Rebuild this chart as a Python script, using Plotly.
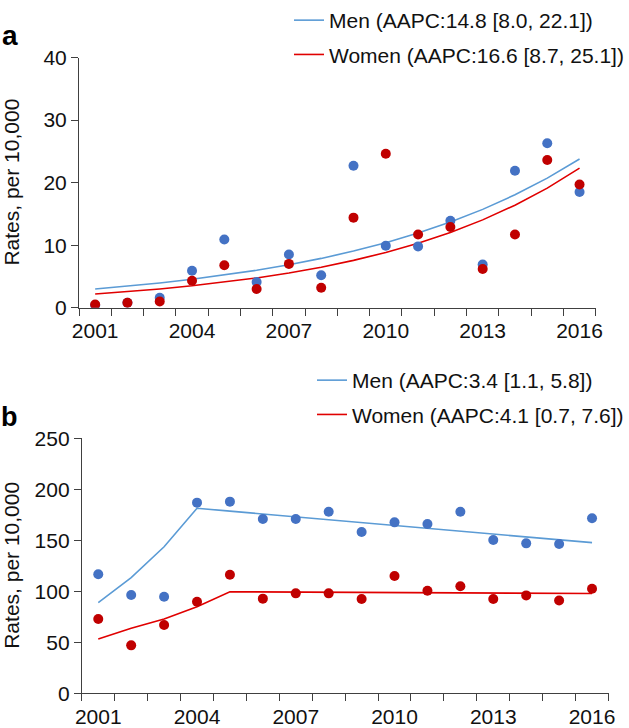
import plotly.graph_objects as go

years = list(range(2001, 2017))
tick_years = [2001, 2004, 2007, 2010, 2013, 2016]
tick_labels = [str(y) for y in tick_years]

# Panel a
a_men = [0.4, 0.8, 1.6, 5.9, 10.9, 4.1, 8.5, 5.2, 22.7, 9.9, 9.8, 13.9, 6.9, 21.9, 26.3, 18.5]
a_women = [0.5, 0.8, 1.0, 4.3, 6.8, 3.0, 7.0, 3.2, 14.4, 24.6, 11.7, 12.9, 6.2, 11.7, 23.6, 19.7]
a_men_fit = [3.0, 3.44, 3.95, 4.54, 5.21, 5.98, 6.87, 7.88, 9.05, 10.39, 11.93, 13.69, 15.72, 18.05, 20.72, 23.78]
a_women_fit = [2.2, 2.57, 3.0, 3.5, 4.08, 4.76, 5.56, 6.48, 7.57, 8.83, 10.31, 12.03, 14.04, 16.38, 19.11, 22.31]
a_names = ["Men (AAPC:14.8 [8.0, 22.1])", "Women (AAPC:16.6 [8.7, 25.1])"]

# Panel b
b_men = [116.7, 96.4, 94.7, 186.9, 187.9, 170.9, 170.9, 178.0, 158.1, 167.6, 166.0, 178.0, 150.3, 147.0, 146.4, 171.6]
b_women = [72.8, 47.0, 67.0, 89.8, 116.3, 92.8, 98.0, 98.0, 92.5, 115.0, 100.6, 104.9, 92.5, 96.0, 91.0, 102.5]
b_men_fit = [88.8, 113.4, 143.7, 181.4, 178.6, 175.8, 173.0, 170.2, 167.4, 164.5, 161.7, 158.9, 156.1, 153.3, 150.5, 147.7]
b_women_fit = [53.2, 63.7, 72.8, 84.9, 99.6, 99.4, 99.3, 99.1, 98.9, 98.8, 98.6, 98.5, 98.3, 98.1, 98.0, 97.8]
b_names = ["Men (AAPC:3.4 [1.1, 5.8])", "Women (AAPC:4.1 [0.7, 7.6])"]

y_title = "Rates, per 10,000"

BLUE_DOT = "#4472C4"
RED_DOT = "#C00000"
BLUE_LINE = "#5B9BD5"
RED_LINE = "#E00000"
AXIS = "#404040"
TEXT = "#111111"
FONT = "Liberation Sans, Arial, sans-serif"
W, H = 629, 728

fig = go.Figure()

def add_panel(xa, ya, men, women, men_fit, women_fit, names, legend):
    fig.add_trace(go.Scatter(x=years, y=men_fit, mode="lines", name=names[0],
                             line=dict(color=BLUE_LINE, width=1.6), xaxis=xa, yaxis=ya,
                             legend=legend, legendgroup=legend + "m"))
    fig.add_trace(go.Scatter(x=years, y=women_fit, mode="lines", name=names[1],
                             line=dict(color=RED_LINE, width=1.6), xaxis=xa, yaxis=ya,
                             legend=legend, legendgroup=legend + "w"))
    fig.add_trace(go.Scatter(x=years, y=men, mode="markers", showlegend=False,
                             marker=dict(color=BLUE_DOT, size=10), xaxis=xa, yaxis=ya))
    fig.add_trace(go.Scatter(x=years, y=women, mode="markers", showlegend=False,
                             marker=dict(color=RED_DOT, size=10), xaxis=xa, yaxis=ya))

add_panel("x", "y", a_men, a_women, a_men_fit, a_women_fit, a_names, "legend")
add_panel("x2", "y2", b_men, b_women, b_men_fit, b_women_fit, b_names, "legend2")

def xaxis_cfg(x0, x1):
    return dict(domain=[x0 / W, x1 / W], range=[2000.5, 2016.5], tickmode="array",
                tickvals=tick_years, ticktext=tick_labels, ticks="", showgrid=False,
                zeroline=False, showline=True, linecolor=AXIS, linewidth=1,
                tickfont=dict(size=21, color=TEXT, family=FONT), ticklabelstandoff=4,
                minor=dict(ticks="outside", tick0=2000.5, dtick=1, ticklen=7,
                           tickcolor=AXIS, tickwidth=1, showgrid=False),
                automargin=False, fixedrange=True)

def yaxis_cfg(ytop, ybot, rng, dt):
    return dict(domain=[(H - ybot) / H, (H - ytop) / H], range=rng, dtick=dt,
                ticks="outside", ticklen=7, tickcolor=AXIS, tickwidth=1,
                showgrid=False, zeroline=False, showline=True, linecolor=AXIS, linewidth=1,
                tickfont=dict(size=21, color=TEXT, family=FONT),
                automargin=False, fixedrange=True)

A_TOP, A_BOT = 57.5, 307.7
B_TOP, B_BOT = 438.3, 693.3

fig.update_layout(
    width=W, height=H,
    margin=dict(l=0, r=0, t=0, b=0, autoexpand=False),
    paper_bgcolor="white", plot_bgcolor="white",
    font=dict(family=FONT, size=21, color=TEXT),
    xaxis=dict(xaxis_cfg(79, 595.7), anchor="y"),
    yaxis=dict(yaxis_cfg(A_TOP, A_BOT, [0, 40], 10), anchor="x"),
    xaxis2=dict(xaxis_cfg(81.8, 608.5), anchor="y2"),
    yaxis2=dict(yaxis_cfg(B_TOP, B_BOT, [0, 250], 50), anchor="x2"),
    legend=dict(x=1, xanchor="right", y=1, yanchor="top",
                bgcolor="rgba(0,0,0,0)", font=dict(size=21, family=FONT, color=TEXT),
                tracegroupgap=4, itemclick=False),
    legend2=dict(x=1, xanchor="right", y=(H - 360) / H, yanchor="top",
                 bgcolor="rgba(0,0,0,0)", font=dict(size=21, family=FONT, color=TEXT),
                 tracegroupgap=4, itemclick=False),
    annotations=[
        dict(text="<b>a</b>", x=10 / W, y=(H - 35) / H, xref="paper", yref="paper",
             xanchor="center", yanchor="middle", showarrow=False,
             font=dict(size=28, family=FONT, color="#000000")),
        dict(text="<b>b</b>", x=9 / W, y=(H - 417) / H, xref="paper", yref="paper",
             xanchor="center", yanchor="middle", showarrow=False,
             font=dict(size=27, family=FONT, color="#000000")),
        dict(text=y_title, x=12 / W, y=(H - (A_TOP + A_BOT) / 2) / H, xref="paper", yref="paper",
             xanchor="center", yanchor="middle", textangle=-90, showarrow=False,
             font=dict(size=21, family=FONT, color=TEXT)),
        dict(text=y_title, x=12 / W, y=(H - (B_TOP + B_BOT) / 2) / H, xref="paper", yref="paper",
             xanchor="center", yanchor="middle", textangle=-90, showarrow=False,
             font=dict(size=21, family=FONT, color=TEXT)),
    ],
)

fig.write_html("out.html", config={"displayModeBar": False},
               post_script="document.body.style.margin='0px';")
